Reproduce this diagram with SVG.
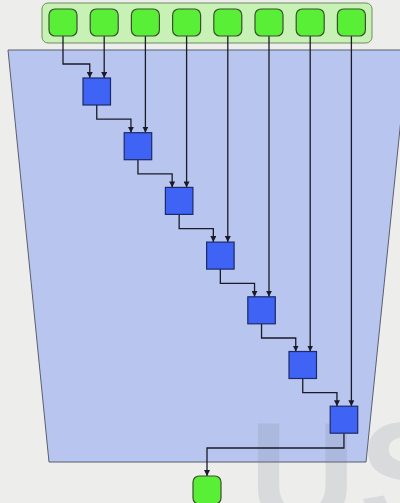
<svg xmlns="http://www.w3.org/2000/svg" width="400" height="503" viewBox="0 0 400 503">
<defs>
<marker id="ah" markerUnits="userSpaceOnUse" markerWidth="6" markerHeight="6" refX="6" refY="3" orient="auto">
<path d="M0,0 L6,3 L0,6 z" fill="#1a1a2a"/>
</marker>
<style>
.in{fill:#58ef36;stroke:#3c4f30;stroke-width:1.2}
.sq{fill:#3e63f5;stroke:#1d2a66;stroke-width:1.2}
.c{fill:none;stroke:#1a1a2a;stroke-width:1.3}
.a{marker-end:url(#ah)}
</style>
</defs>
<rect x="0" y="0" width="400" height="503" fill="#ededeb"/>
<g id="container">
<rect x="42" y="3" width="330" height="40" rx="6" fill="#c8f1b6" stroke="#6f8c62" stroke-width="1"/>
</g>
<g id="region">
<polygon points="8,50 408,50 366,462 49,462" fill="#b8c6ef" stroke="#5a5e6e" stroke-width="1"/>
</g>
<text x="249" y="526" font-family="Liberation Sans, Arial, sans-serif" font-weight="bold" font-size="148" letter-spacing="3" fill="#6f7592" fill-opacity="0.16">US</text>
<g id="connectors">
<path class="c a" d="M63,36 V64 H89.75 V78"/>
<path class="c a" d="M96.75,105 V119.2 H130.95 V132.7"/>
<path class="c a" d="M137.95,159.7 V173.9 H172.15 V187.4"/>
<path class="c a" d="M179.15,214.4 V228.6 H213.35 V242.1"/>
<path class="c a" d="M220.35,269.1 V283.3 H254.55 V296.8"/>
<path class="c a" d="M261.55,323.8 V338 H295.75 V351.5"/>
<path class="c a" d="M302.75,378.5 V392.7 H336.95 V406.2"/>
<path class="c a" d="M104.2,36 V78"/>
<path class="c a" d="M145.4,36 V132.7"/>
<path class="c a" d="M186.6,36 V187.4"/>
<path class="c a" d="M227.8,36 V242.1"/>
<path class="c a" d="M269,36 V296.8"/>
<path class="c a" d="M310.2,36 V351.5"/>
<path class="c a" d="M351.4,36 V406.2"/>
<path class="c a" d="M343.95,433.2 V448 H207 V476"/>
</g>
<g id="in1"><rect class="in" x="49" y="9" width="28" height="27" rx="6"/></g>
<g id="in2"><rect class="in" x="90.2" y="9" width="28" height="27" rx="6"/></g>
<g id="in3"><rect class="in" x="131.4" y="9" width="28" height="27" rx="6"/></g>
<g id="in4"><rect class="in" x="172.6" y="9" width="28" height="27" rx="6"/></g>
<g id="in5"><rect class="in" x="213.8" y="9" width="28" height="27" rx="6"/></g>
<g id="in6"><rect class="in" x="255" y="9" width="28" height="27" rx="6"/></g>
<g id="in7"><rect class="in" x="296.2" y="9" width="28" height="27" rx="6"/></g>
<g id="in8"><rect class="in" x="337.4" y="9" width="28" height="27" rx="6"/></g>
<g id="op1"><rect class="sq" x="83" y="78" width="27.5" height="27"/></g>
<g id="op2"><rect class="sq" x="124.2" y="132.7" width="27.5" height="27"/></g>
<g id="op3"><rect class="sq" x="165.4" y="187.4" width="27.5" height="27"/></g>
<g id="op4"><rect class="sq" x="206.6" y="242.1" width="27.5" height="27"/></g>
<g id="op5"><rect class="sq" x="247.8" y="296.8" width="27.5" height="27"/></g>
<g id="op6"><rect class="sq" x="289" y="351.5" width="27.5" height="27"/></g>
<g id="op7"><rect class="sq" x="330.2" y="406.2" width="27.5" height="27"/></g>
<g id="out"><rect class="in" x="193" y="476" width="28" height="28" rx="6"/></g>
</svg>
